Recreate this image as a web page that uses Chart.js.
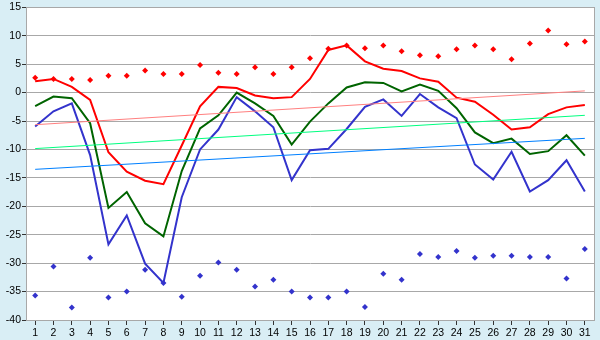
<!DOCTYPE html>
<html>
<head>
<meta charset="utf-8">
<script src="https://cdn.jsdelivr.net/npm/chart.js@4"></script>
<style>
  html, body { margin: 0; padding: 0; background: #d9eef5; }
  #wrap { width: 600px; height: 340px; position: relative; }
</style>
</head>
<body>
<div id="wrap"><canvas id="c" width="600" height="340"></canvas></div>
<script>
// days of the month
const days = Array.from({ length: 31 }, (_, i) => String(i + 1));

// main lines
const redLine = [2.0, 2.4, 1.0, -1.3, -10.5, -13.9, -15.5, -16.1, -9.3, -2.4, 1.0, 0.8, -0.5, -1.0, -0.8, 2.4,
  7.5, 8.3, 5.5, 4.2, 3.8, 2.5, 1.9, -0.9, -1.6, -3.9, -6.5, -6.1, -3.8, -2.6, -2.2];
const greenLine = [-2.4, -0.7, -1.0, -5.4, -20.3, -17.5, -23.0, -25.3, -13.8, -6.3, -4.0, 0.0, -1.9, -4.1, -9.15, -5.1,
  -1.9, 0.9, 1.8, 1.7, 0.2, 1.4, 0.3, -2.75, -7.0, -8.9, -8.1, -10.8, -10.3, -7.5, -11.1];
const blueLine = [-5.95, -3.3, -1.9, -11.0, -26.7, -21.6, -30.1, -33.5, -18.4, -10.0, -6.5, -0.8, -3.3, -6.1, -15.4, -10.15,
  -9.9, -6.4, -2.5, -1.2, -4.1, -0.25, -2.6, -4.5, -12.65, -15.3, -10.4, -17.4, -15.4, -11.9, -17.4];

// scattered points
const redDots = [2.6, 2.4, 2.4, 2.2, 2.95, 2.95, 3.9, 3.25, 3.25, 4.85, 3.5, 3.25, 4.45, 3.25, 4.45, 6.05,
  7.7, 8.3, 7.8, 8.3, 7.25, 6.55, 6.4, 7.6, 8.3, 7.6, 5.85, 8.65, 10.9, 8.5, 9.0];
const blueDots = [-35.7, -30.6, -37.8, -29.05, -36.05, -35.0, -31.15, -33.5, -35.9, -32.2, -29.9, -31.15, -34.1, -32.9, -35.0, -36.05,
  -36.05, -35.0, -37.7, -31.85, -32.9, -28.4, -28.9, -27.85, -29.05, -28.7, -28.7, -28.9, -28.9, -32.7, -27.5];

// trend lines: value at day 1 and at day 31
const redTrend = [-5.65, 0.3];
const greenTrend = [-9.85, -4.0];
const blueTrend = [-13.5, -8.05];

const yMin = -40, yMax = 15, yStep = 5;

function ends(pair) {
  return days.map((_, i) => i === 0 ? pair[0] : (i === days.length - 1 ? pair[1] : null));
}

function lineSet(data, color, width) {
  return {
    data, borderColor: color, borderWidth: width, pointRadius: 0,
    fill: false, tension: 0, spanGaps: true
  };
}

function dotSet(data, color) {
  return {
    data, showLine: false, pointStyle: "rectRot", pointRadius: 3,
    pointBackgroundColor: color, pointBorderColor: color, pointBorderWidth: 0
  };
}

const bgPlugin = {
  id: "bg",
  beforeDraw(chart) {
    const { ctx, chartArea: a } = chart;
    ctx.save();
    ctx.fillStyle = "#d9eef5";
    ctx.fillRect(0, 0, chart.width, chart.height);
    ctx.fillStyle = "#ffffff";
    ctx.fillRect(a.left, a.top, a.right - a.left, a.bottom - a.top);
    ctx.restore();
  },
  afterDraw(chart) {
    const { ctx, chartArea: a } = chart;
    ctx.save();
    ctx.strokeStyle = "#a8a8a8";
    ctx.lineWidth = 1;
    ctx.strokeRect(Math.round(a.left) + 0.5, Math.round(a.top) + 0.5,
      Math.round(a.right - a.left), Math.round(a.bottom - a.top));
    ctx.restore();
  }
};

const font = { family: "'Liberation Sans', Arial, sans-serif", size: 10.5 };

new Chart(document.getElementById("c"), {
  type: "line",
  data: {
    labels: days,
    datasets: [
      lineSet(ends(redTrend), "#ff8080", 1),
      lineSet(ends(greenTrend), "#00ff80", 1),
      lineSet(ends(blueTrend), "#0080ff", 1),
      dotSet(redDots, "#ff0000"),
      dotSet(blueDots, "#3333cc"),
      lineSet(blueLine, "#3333cc", 2),
      lineSet(greenLine, "#006400", 2),
      lineSet(redLine, "#ff0000", 2)
    ]
  },
  options: {
    responsive: false,
    animation: false,
    layout: { padding: { left: 0, right: 6, top: 5, bottom: 0 } },
    plugins: { legend: { display: false }, tooltip: { enabled: false } },
    scales: {
      x: {
        offset: true,
        grid: { display: true, drawOnChartArea: false, tickLength: 5, tickColor: "#333", offset: false },
        border: { color: "#a8a8a8" },
        ticks: { color: "#000", font, padding: 2, maxRotation: 0, autoSkip: false },
        afterFit(s) { s.height = 20; }
      },
      y: {
        min: yMin, max: yMax,
        grid: { color: "#a8a8a8", tickLength: 4, tickColor: "#333" },
        border: { color: "#a8a8a8" },
        ticks: { stepSize: yStep, color: "#000", font, padding: 1 },
        afterFit(s) { s.width = 26; }
      }
    }
  },
  plugins: [bgPlugin]
});
</script>
</body>
</html>
